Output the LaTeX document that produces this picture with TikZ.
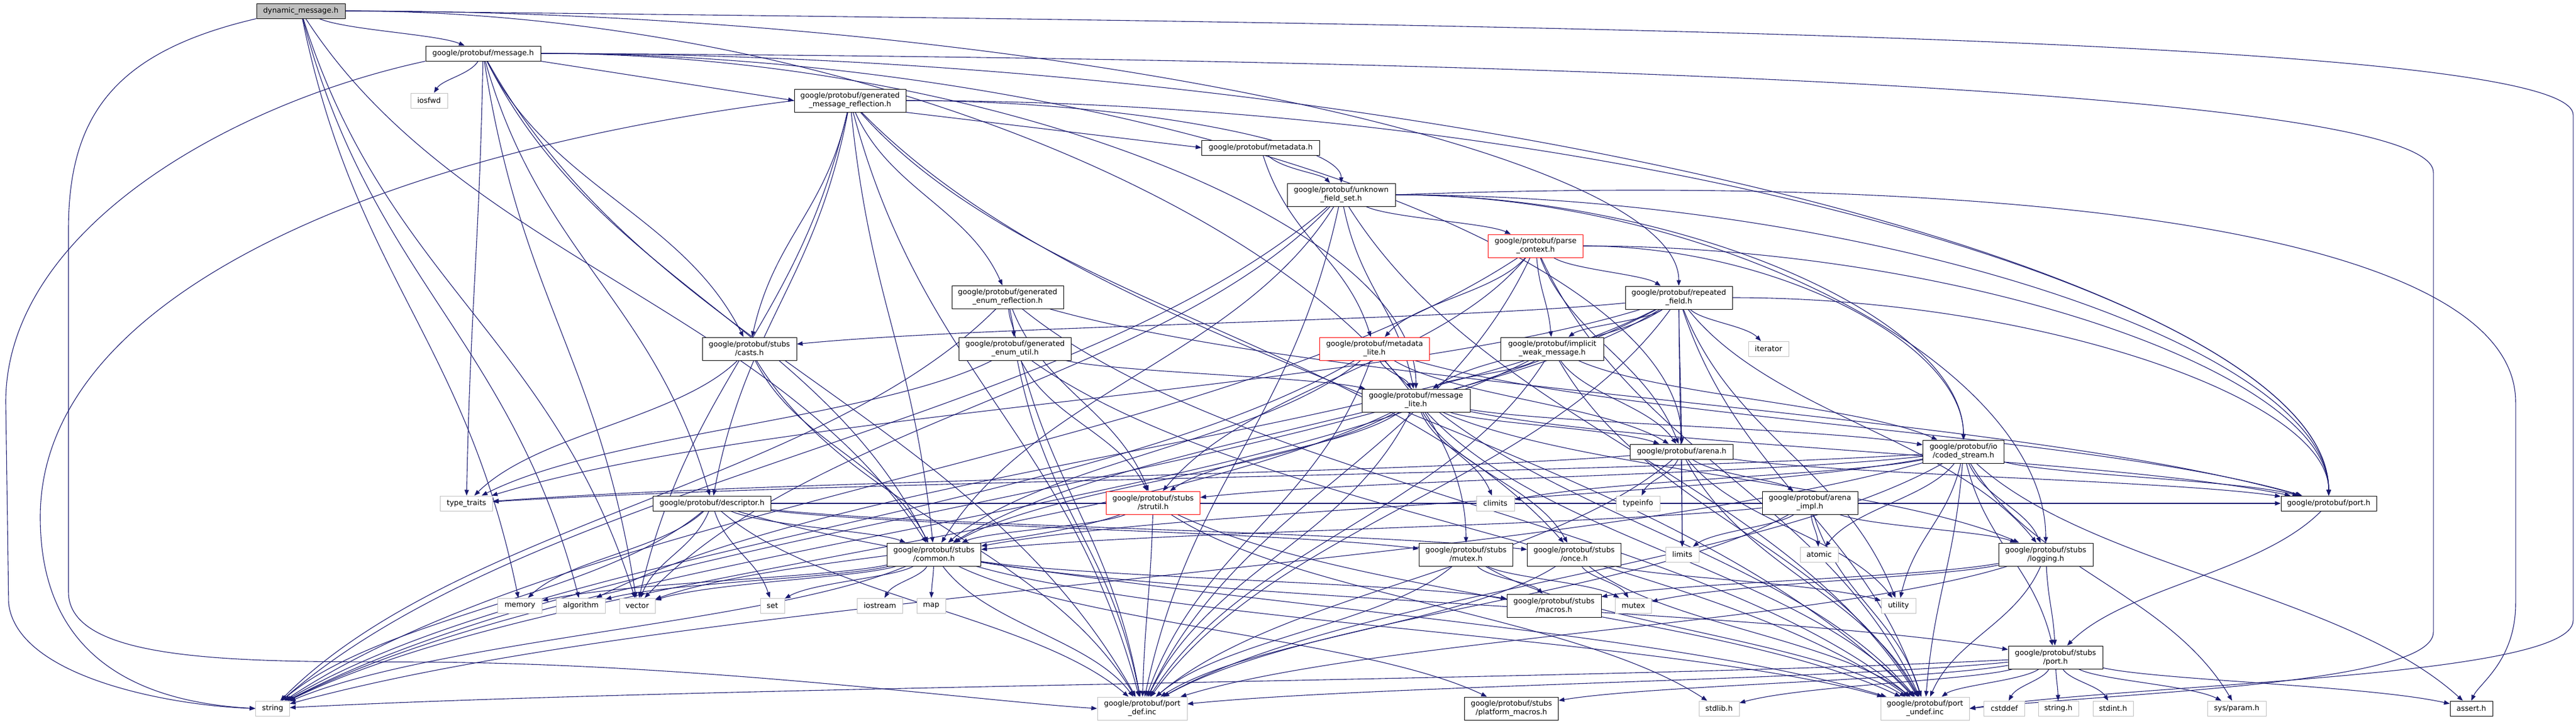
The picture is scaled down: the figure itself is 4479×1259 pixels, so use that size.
\documentclass[tikz,border=0pt]{standalone}
\usepackage{fontspec}
\setmainfont{DejaVu Sans}
\usetikzlibrary{arrows.meta,calc,backgrounds}
\definecolor{edgeblue}{HTML}{191970}
\definecolor{extgrey}{HTML}{BFBFBF}
\definecolor{dmgrey}{HTML}{BFBFBF}
\newcommand\nf{\fontsize{12.8}{15}\selectfont}
\tikzset{
  box/.style={draw, line width=1pt, fill=white, inner sep=0pt, align=center, font=\nf},
  doc/.style={box, draw=black},
  ext/.style={box, draw=extgrey},
  trunc/.style={box, draw=red},
  one/.style={minimum height=26pt},
  two/.style={minimum height=40pt},
  edge/.style={draw=edgeblue, line width=1.1pt, -{Triangle[length=10pt,width=7.5pt]}},
}
\newcommand\ed[2]{\draw[edge] let \p1=(#1), \p2=(#2) in (#1)
  .. controls ({\x1+0.25*(\x2-\x1)},{\y1+0.45*(\y2-\y1)}) and ({\x2-0.25*(\x2-\x1)},{\y2-0.45*(\y2-\y1)}) .. (#2);}
\newcommand\edR[2]{\draw[edge] let \p1=(#1.east), \p2=(#2.north) in
  (\p1) .. controls ({0.5*(\x1+\x2)},\y1) and (\x2,{0.5*(\y1+\y2)}) .. (\p2);}
\begin{document}
\begin{tikzpicture}[x=1pt,y=1pt]
\useasboundingbox (0,0) rectangle (4479,-1259);
% ---------------- nodes ----------------
\node[doc,one,fill=dmgrey,minimum width=154] (dm) at (523,-19) {dynamic\_message.h};
\node[doc,one,minimum width=200] (msg) at (840,-93) {google/protobuf/message.h};
\node[ext,one,minimum width=64] (iosfwd) at (746,-175) {iosfwd};
\node[doc,two,minimum width=194] (gmr) at (1478,-175) {google/protobuf/generated\\\_message\_reflection.h};
\node[doc,one,minimum width=205] (meta) at (2192,-257) {google/protobuf/metadata.h};
\node[doc,two,minimum width=188] (ufs) at (2332,-339) {google/protobuf/unknown\\\_field\_set.h};
\node[trunc,two,minimum width=165] (pc) at (2670,-428) {google/protobuf/parse\\\_context.h};
\node[doc,two,minimum width=186] (rf) at (2919,-518) {google/protobuf/repeated\\\_field.h};
\node[doc,two,minimum width=194] (ger) at (1752,-517) {google/protobuf/generated\\\_enum\_reflection.h};
\node[doc,two,minimum width=164] (casts) at (1303,-607) {google/protobuf/stubs\\/casts.h};
\node[doc,two,minimum width=195] (geu) at (1765,-607) {google/protobuf/generated\\\_enum\_util.h};
\node[trunc,two,minimum width=191] (ml) at (2390,-607) {google/protobuf/metadata\\\_lite.h};
\node[doc,two,minimum width=179] (iwm) at (2699,-607) {google/protobuf/implicit\\\_weak\_message.h};
\node[ext,one,minimum width=70] (iter) at (3075,-607) {iterator};
\node[doc,two,minimum width=188] (msgl) at (2462,-697) {google/protobuf/message\\\_lite.h};
\node[doc,one,minimum width=179] (arena) at (2924,-786) {google/protobuf/arena.h};
\node[doc,two,minimum width=141] (cs) at (3414,-786) {google/protobuf/io\\/coded\_stream.h};
\node[ext,one,minimum width=91] (tt) at (811,-876) {type\_traits};
\node[doc,one,minimum width=205] (desc) at (1238,-876) {google/protobuf/descriptor.h};
\node[trunc,two,minimum width=163] (strutil) at (2005,-875) {google/protobuf/stubs\\/strutil.h};
\node[ext,one,minimum width=66] (climits) at (2600,-876) {climits};
\node[ext,one,minimum width=76] (typeinfo) at (2848,-876) {typeinfo};
\node[doc,two,minimum width=166] (aimpl) at (3147,-875) {google/protobuf/arena\\\_impl.h};
\node[doc,one,minimum width=166] (porth) at (4049,-876) {google/protobuf/port.h};
\node[doc,two,minimum width=163] (common) at (1624,-965) {google/protobuf/stubs\\/common.h};
\node[doc,two,minimum width=163] (mutexh) at (2549,-965) {google/protobuf/stubs\\/mutex.h};
\node[doc,two,minimum width=163] (once) at (2737,-965) {google/protobuf/stubs\\/once.h};
\node[ext,one,minimum width=58] (limits) at (2925,-965) {limits};
\node[ext,one,minimum width=66] (atomic) at (3163,-965) {atomic};
\node[doc,two,minimum width=164] (logging) at (3557,-965) {google/protobuf/stubs\\/logging.h};
\node[ext,one,minimum width=77] (memory) at (904,-1054) {memory};
\node[ext,one,minimum width=85] (algorithm) at (1010,-1054) {algorithm};
\node[ext,one,minimum width=62] (vector) at (1108,-1054) {vector};
\node[ext,one,minimum width=42] (set) at (1343,-1054) {set};
\node[ext,one,minimum width=79] (iostream) at (1530,-1054) {iostream};
\node[ext,one,minimum width=50] (map) at (1619,-1054) {map};
\node[doc,two,minimum width=164] (macros) at (2702,-1054) {google/protobuf/stubs\\/macros.h};
\node[ext,one,minimum width=63] (mutex) at (2840,-1054) {mutex};
\node[ext,one,minimum width=60] (utility) at (3301,-1054) {utility};
\node[doc,two,minimum width=164] (sport) at (3574,-1144) {google/protobuf/stubs\\/port.h};
\node[ext,one,minimum width=59] (string) at (474,-1233) {string};
\node[ext,two,minimum width=156] (pdef) at (1986,-1233) {google/protobuf/port\\\_def.inc};
\node[doc,two,minimum width=163] (pmac) at (2628,-1233) {google/protobuf/stubs\\/platform\_macros.h};
\node[ext,one,minimum width=70] (stdlib) at (2989,-1233) {stdlib.h};
\node[ext,two,minimum width=154] (pundef) at (3347,-1233) {google/protobuf/port\\\_undef.inc};
\node[ext,one,minimum width=71] (cstddef) at (3485,-1233) {cstddef};
\node[ext,one,minimum width=70] (stringh) at (3579,-1233) {string.h};
\node[ext,one,minimum width=70] (stdint) at (3674,-1233) {stdint.h};
\node[ext,one,minimum width=102] (sysparam) at (3889,-1233) {sys/param.h};
\node[doc,one,minimum width=74] (assert) at (4297,-1233) {assert.h};
% ---------------- edges ----------------
\begin{scope}[on background layer]
% dynamic_message.h
\ed{dm}{msg} \edR{dm}{rf} \edR{dm}{mutexh} \ed{dm}{algorithm} \ed{dm}{memory} \ed{dm}{vector} \ed{dm}{common}
\draw[edge] (dm.south west) .. controls (200,-90) and (119,-200) .. (119,-400) -- (119,-1030)
  .. controls (119,-1150) and (400,-1152) .. (700,-1152) .. controls (1200,-1152) and (1700,-1220) .. (pdef.west);
\draw[edge] (dm.east) .. controls (2500,-40) and (4474,-60) .. (4474,-200) -- (4474,-1080)
  .. controls (4474,-1180) and (3700,-1190) .. (pundef.east);
% message.h
\ed{msg}{iosfwd} \ed{msg}{tt} \ed{msg}{vector} \ed{msg}{casts} \ed{msg}{common} \edR{msg}{arena} \ed{msg}{desc}
\draw[edge] (msg.south east) -- (gmr.west);
\edR{msg}{msgl} \edR{msg}{porth} \ed{msg}{pdef}
\draw[edge] (msg.south west) .. controls (400,-180) and (10,-400) .. (10,-700) -- (15,-1050)
  .. controls (30,-1180) and (300,-1228) .. (string.west);
\draw[edge] (msg.east) .. controls (2500,-100) and (4231,-150) .. (4231,-300) -- (4231,-1100)
  .. controls (4231,-1190) and (3700,-1205) .. (pundef.east);
% generated_message_reflection.h
\draw[edge] (gmr.west) .. controls (700,-260) and (70,-500) .. (70,-900)
  .. controls (70,-1150) and (250,-1222) .. (string.west);
\ed{gmr}{vector} \ed{gmr}{casts} \ed{gmr}{common} \ed{gmr}{desc} \ed{gmr}{ger} \ed{gmr}{once} \edR{gmr}{porth}
\draw[edge] (gmr.south east) -- (meta.west);
\edR{gmr}{ufs} \ed{gmr}{pdef} \ed{gmr}{pundef}
% metadata.h
\ed{meta}{ml} \ed{meta}{ufs}
% unknown_field_set.h
\draw[edge] (ufs.east) .. controls (3500,-300) and (4374,-400) .. (4374,-700) -- (4374,-1050)
  .. controls (4374,-1150) and (4310,-1190) .. (assert.north);
\ed{ufs}{string} \ed{ufs}{vector} \ed{ufs}{common} \edR{ufs}{logging} \edR{ufs}{cs} \ed{ufs}{msgl} \ed{ufs}{pc}
\edR{ufs}{porth} \ed{ufs}{pdef} \ed{ufs}{pundef}
% parse_context.h
\ed{pc}{string} \edR{pc}{cs} \ed{pc}{arena} \ed{pc}{iwm} \ed{pc}{ml} \edR{pc}{porth} \ed{pc}{rf} \ed{pc}{strutil}
\ed{pc}{pdef} \ed{pc}{pundef}
% repeated_field.h
\ed{rf}{utility} \ed{rf}{iter} \ed{rf}{limits} \ed{rf}{string} \ed{rf}{tt} \ed{rf}{logging} \ed{rf}{common}
\ed{rf}{arena} \ed{rf}{iwm} \ed{rf}{msgl} \ed{rf}{casts} \edR{rf}{porth} \ed{rf}{pdef} \ed{rf}{pundef} \ed{rf}{algorithm}
% implicit_weak_message.h
\ed{iwm}{string} \ed{iwm}{cs} \ed{iwm}{arena} \ed{iwm}{msgl} \ed{iwm}{pdef} \ed{iwm}{pundef}
% metadata_lite.h
\ed{ml}{string} \ed{ml}{common} \ed{ml}{arena} \ed{ml}{msgl} \ed{ml}{porth} \ed{ml}{pdef} \ed{ml}{pundef}
% message_lite.h
\ed{msgl}{climits} \ed{msgl}{string} \ed{msgl}{common} \ed{msgl}{logging} \ed{msgl}{cs} \ed{msgl}{arena}
\ed{msgl}{once} \ed{msgl}{porth} \ed{msgl}{strutil} \ed{msgl}{pdef} \ed{msgl}{pundef}
% arena.h
\ed{arena}{limits} \ed{arena}{tt} \ed{arena}{utility} \ed{arena}{typeinfo} \ed{arena}{aimpl} \ed{arena}{porth}
\ed{arena}{pdef} \ed{arena}{pundef}
% arena_impl.h
\ed{aimpl}{atomic} \ed{aimpl}{limits} \ed{aimpl}{common} \ed{aimpl}{logging} \ed{aimpl}{pdef} \ed{aimpl}{pundef}
% coded_stream.h
\ed{cs}{assert} \ed{cs}{atomic} \ed{cs}{climits} \ed{cs}{string} \ed{cs}{tt} \ed{cs}{utility} \ed{cs}{sysparam}
\ed{cs}{common} \ed{cs}{logging} \ed{cs}{strutil} \ed{cs}{porth} \ed{cs}{sport} \ed{cs}{pdef} \ed{cs}{pundef}
% port.h
\ed{porth}{sport}
% stubs/port.h
\ed{sport}{assert} \ed{sport}{cstddef} \ed{sport}{string} \ed{sport}{stringh} \ed{sport}{stdint} \ed{sport}{sysparam}
\ed{sport}{stdlib} \ed{sport}{pmac} \ed{sport}{pdef} \ed{sport}{pundef}
% logging.h
\ed{logging}{macros} \ed{logging}{sport} \ed{logging}{mutex} \ed{logging}{pdef} \ed{logging}{pundef}
% common.h
\ed{common}{algorithm} \ed{common}{iostream} \ed{common}{map} \ed{common}{memory} \ed{common}{set} \ed{common}{string}
\ed{common}{vector} \ed{common}{macros} \ed{common}{pmac} \ed{common}{sport} \ed{common}{pdef} \ed{common}{pundef}
% stubs/mutex.h
\ed{mutexh}{mutex} \ed{mutexh}{macros} \ed{mutexh}{pdef} \ed{mutexh}{pundef}
% once.h
\ed{once}{mutex} \ed{once}{utility} \ed{once}{pdef} \ed{once}{pundef}
% casts.h
\ed{casts}{tt} \ed{casts}{common} \ed{casts}{pdef}
% descriptor.h
\ed{desc}{memory} \ed{desc}{set} \ed{desc}{string} \ed{desc}{vector} \ed{desc}{common} \ed{desc}{mutexh}
\ed{desc}{once} \ed{desc}{porth} \ed{desc}{pdef} \ed{desc}{pundef}
% generated_enum_reflection.h
\ed{ger}{string} \ed{ger}{geu} \ed{ger}{porth} \ed{ger}{strutil} \ed{ger}{pdef} \ed{ger}{pundef}
% generated_enum_util.h
\ed{geu}{tt} \ed{geu}{msgl} \ed{geu}{strutil} \ed{geu}{pdef} \ed{geu}{pundef}
% strutil.h
\ed{strutil}{stdlib} \ed{strutil}{vector} \ed{strutil}{common} \ed{strutil}{pdef} \ed{strutil}{pundef}
\end{scope}
\end{tikzpicture}
\end{document}
